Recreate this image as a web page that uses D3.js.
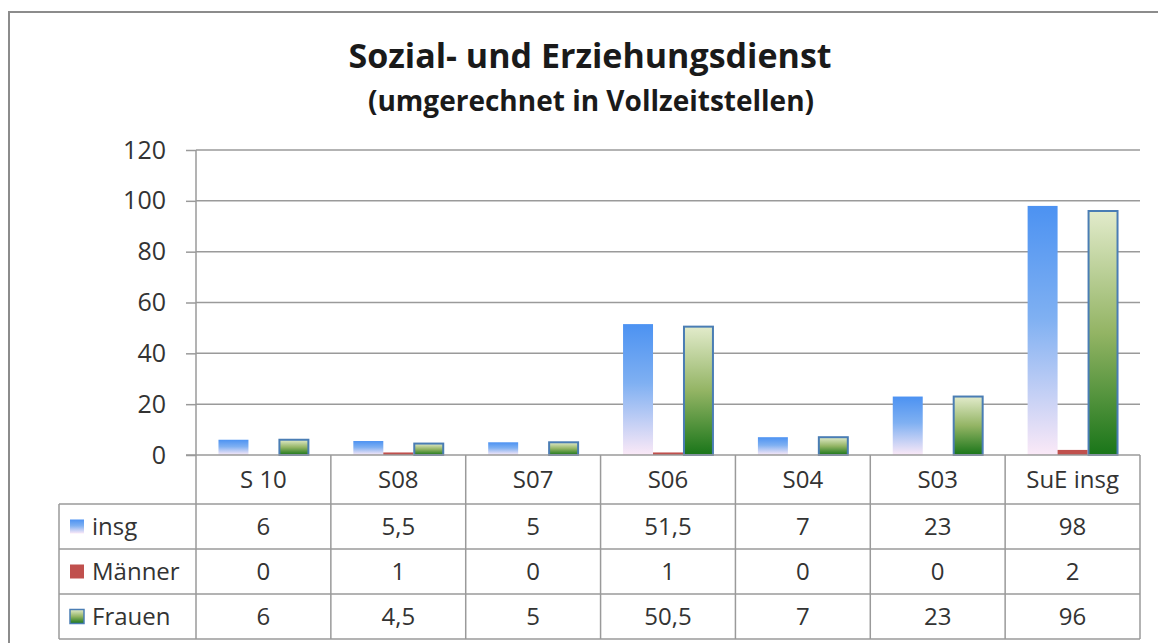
<!DOCTYPE html>
<html>
<head>
<meta charset="utf-8">
<script src="https://cdn.jsdelivr.net/npm/d3@7"></script>
<style>
  body { margin: 0; background: #fff; }
  svg { display: block; }
</style>
</head>
<body>
<svg width="1158" height="643"></svg>
<script>
// DATA
const categories = ["S 10", "S08", "S07", "S06", "S04", "S03", "SuE insg"];
const seriesNames = ["insg", "Männer", "Frauen"];
const insg = [6, 5.5, 5, 51.5, 7, 23, 98];
const maenner = [0, 1, 0, 1, 0, 0, 2];
const frauen = [6, 4.5, 5, 50.5, 7, 23, 96];
const yTicks = [0, 20, 40, 60, 80, 100, 120];

const seriesValues = [insg, maenner, frauen];

const svg = d3.select("svg");
const font = "'Open Sans', Lato, sans-serif";

// CONSTANTS
const plot = { left: 196, right: 1140, top: 150, bottom: 455 };
const tableLeft = 59;
const rowH = 45;
const headerH = 49;
const tableFont = 24;

const locale = d3.formatLocale({ decimal: ",", thousands: ".", grouping: [3], currency: ["", "€"] });
const fmt = locale.format("~g");

// SCALES
const xCol = d3.scaleBand().domain(categories).range([plot.left, plot.right]);
const x0 = d3.scaleBand().domain(categories).range([plot.left, plot.right])
  .paddingInner(1 / 3).paddingOuter(1 / 6);
const x1 = d3.scaleBand().domain(seriesNames).range([0, x0.bandwidth()]);
const y = d3.scaleLinear().domain([0, 120]).range([plot.bottom, plot.top]);

// gradients
const defs = svg.append("defs");
const blueGrad = defs.append("linearGradient").attr("id", "gInsg")
  .attr("x1", 0).attr("y1", 0).attr("x2", 0).attr("y2", 1);
blueGrad.append("stop").attr("offset", "0%").attr("stop-color", "#4c92f2");
blueGrad.append("stop").attr("offset", "45%").attr("stop-color", "#7fb0f2");
blueGrad.append("stop").attr("offset", "100%").attr("stop-color", "#fbe9f7");

const greenGrad = defs.append("linearGradient").attr("id", "gFrauen")
  .attr("x1", 0).attr("y1", 0).attr("x2", 0).attr("y2", 1);
greenGrad.append("stop").attr("offset", "0%").attr("stop-color", "#e2ebcb");
greenGrad.append("stop").attr("offset", "50%").attr("stop-color", "#93b464");
greenGrad.append("stop").attr("offset", "100%").attr("stop-color", "#197519");

const fills = { "insg": "url(#gInsg)", "Männer": "#c0504d", "Frauen": "url(#gFrauen)" };
const strokes = { "insg": "none", "Männer": "none", "Frauen": "#4a7db4" };

// outer frame
svg.append("rect")
  .attr("x", 9).attr("y", 12).attr("width", 1170).attr("height", 660)
  .attr("fill", "#fff").attr("stroke", "#8c8c8c").attr("stroke-width", 2);

// title
svg.append("text")
  .attr("x", 590).attr("y", 68)
  .attr("text-anchor", "middle")
  .attr("font-family", font).attr("font-weight", "bold").attr("font-size", 34)
  .attr("fill", "#1a1a1a")
  .text("Sozial- und Erziehungsdienst");
svg.append("text")
  .attr("x", 591).attr("y", 111)
  .attr("text-anchor", "middle")
  .attr("font-family", font).attr("font-weight", "bold").attr("font-size", 28)
  .attr("fill", "#1a1a1a")
  .text("(umgerechnet in Vollzeitstellen)");

// gridlines + y axis
const yAxis = d3.axisLeft(y).tickValues(yTicks).tickSize(10).tickPadding(20)
  .tickFormat(d => d);
const gy = svg.append("g").attr("transform", `translate(${plot.left},0)`).call(yAxis);
gy.select(".domain").remove();
gy.selectAll(".tick line").attr("stroke", "#9a9a9a").attr("stroke-width", 1.5);
gy.selectAll(".tick text")
  .attr("font-family", font).attr("font-size", 25).attr("fill", "#333");

svg.append("g").selectAll("line")
  .data(yTicks.filter(d => d > 0))
  .join("line")
  .attr("x1", plot.left).attr("x2", plot.right)
  .attr("y1", d => y(d)).attr("y2", d => y(d))
  .attr("stroke", "#9a9a9a").attr("stroke-width", 1.5);

// y axis line
svg.append("line")
  .attr("x1", plot.left).attr("x2", plot.left)
  .attr("y1", plot.top).attr("y2", plot.bottom + headerH + rowH * 3)
  .attr("stroke", "#9a9a9a").attr("stroke-width", 1.5);

// bars
const groups = svg.append("g").selectAll("g")
  .data(categories)
  .join("g")
  .attr("transform", d => `translate(${x0(d)},0)`);

groups.selectAll("rect")
  .data((c, i) => seriesNames.map((s, j) => ({ s, v: seriesValues[j][i] })))
  .join("rect")
  .attr("x", d => x1(d.s) + (d.s === "Frauen" ? 1 : 0))
  .attr("width", d => x1.bandwidth() - (d.s === "Frauen" ? 1 : 0))
  .attr("y", d => y(d.v))
  .attr("height", d => y(0) - y(d.v))
  .attr("fill", d => fills[d.s])
  .attr("stroke", d => d.v > 0 ? strokes[d.s] : "none")
  .attr("stroke-width", 2);

// data table
const tableTop = plot.bottom;
const tableBottom = tableTop + headerH + rowH * 3;
const lineColor = "#9a9a9a";
const table = svg.append("g");

// x axis baseline
table.append("line")
  .attr("x1", plot.left - 10).attr("x2", plot.right)
  .attr("y1", tableTop).attr("y2", tableTop)
  .attr("stroke", lineColor).attr("stroke-width", 1.5);

// horizontal row lines
table.selectAll("line.row")
  .data(d3.range(4))
  .join("line")
  .attr("class", "row")
  .attr("x1", tableLeft).attr("x2", plot.right)
  .attr("y1", i => tableTop + headerH + i * rowH)
  .attr("y2", i => tableTop + headerH + i * rowH)
  .attr("stroke", lineColor).attr("stroke-width", 1.5);

// vertical column lines
table.selectAll("line.col")
  .data(categories)
  .join("line")
  .attr("class", "col")
  .attr("x1", d => xCol(d) + xCol.bandwidth()).attr("x2", d => xCol(d) + xCol.bandwidth())
  .attr("y1", tableTop).attr("y2", tableBottom)
  .attr("stroke", lineColor).attr("stroke-width", 1.5);

table.append("line")
  .attr("x1", tableLeft).attr("x2", tableLeft)
  .attr("y1", tableTop + headerH).attr("y2", tableBottom)
  .attr("stroke", lineColor).attr("stroke-width", 1.5);

// category labels
table.selectAll("text.cat")
  .data(categories)
  .join("text")
  .attr("class", "cat")
  .attr("x", d => xCol(d) + xCol.bandwidth() / 2)
  .attr("y", tableTop + headerH / 2)
  .attr("dy", "0.35em")
  .attr("text-anchor", "middle")
  .attr("font-family", font).attr("font-size", tableFont).attr("fill", "#333")
  .text(d => d);

// value rows
seriesNames.forEach((s, j) => {
  const rowY = tableTop + headerH + j * rowH + rowH / 2;
  table.selectAll(`text.v${j}`)
    .data(seriesValues[j])
    .join("text")
    .attr("class", `v${j}`)
    .attr("x", (d, i) => xCol(categories[i]) + xCol.bandwidth() / 2)
    .attr("y", rowY)
    .attr("dy", "0.35em")
    .attr("text-anchor", "middle")
    .attr("font-family", font).attr("font-size", tableFont).attr("fill", "#333")
    .text(d => fmt(d));

  // legend key + name
  table.append("rect")
    .attr("x", 70).attr("y", rowY - 7)
    .attr("width", 14).attr("height", 14)
    .attr("fill", fills[s])
    .attr("stroke", strokes[s]).attr("stroke-width", 1.5);
  table.append("text")
    .attr("x", 92).attr("y", rowY)
    .attr("dy", "0.35em")
    .attr("font-family", font).attr("font-size", tableFont).attr("fill", "#333")
    .text(s);
});
</script>
</body>
</html>
